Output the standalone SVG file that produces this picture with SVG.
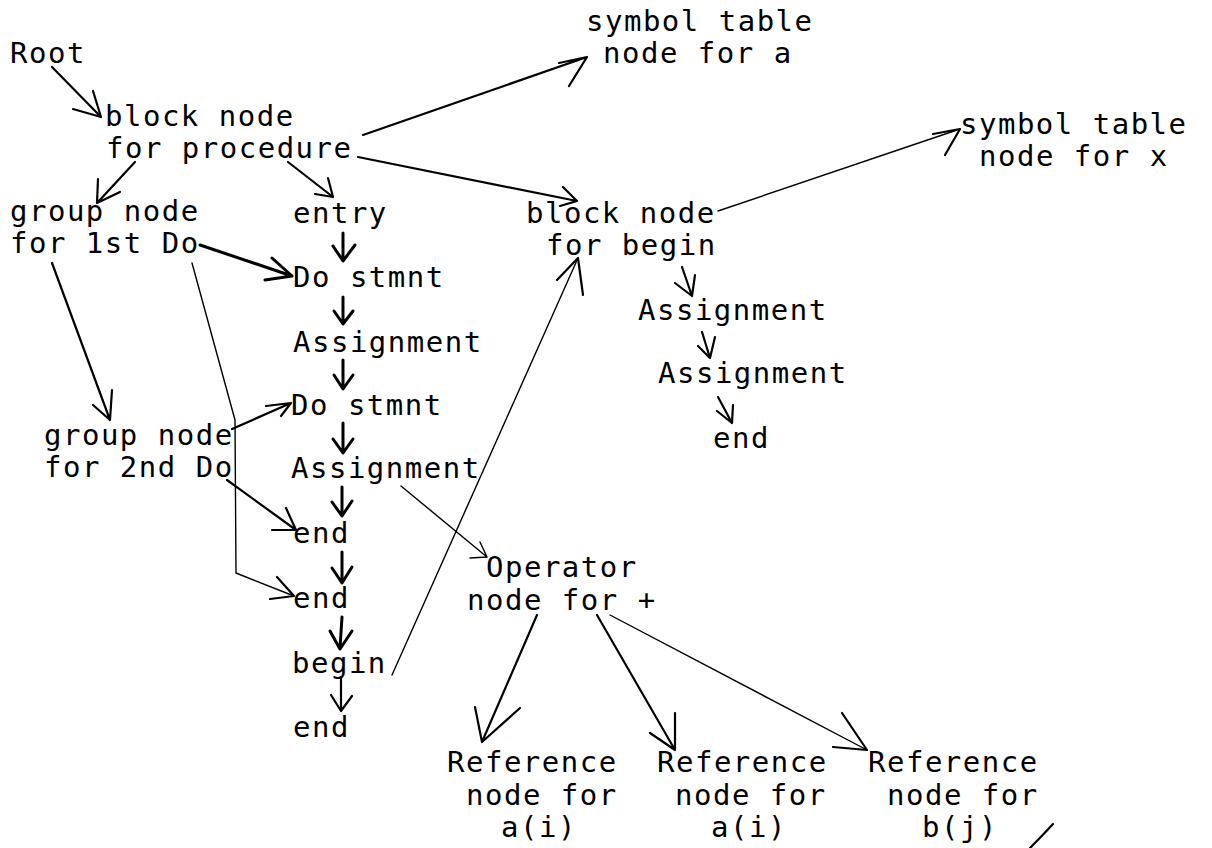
<svg xmlns="http://www.w3.org/2000/svg" width="1212" height="848" viewBox="0 0 1212 848">
<style>
text{font-family:"DejaVu Sans Mono","Liberation Mono",monospace;font-size:29px;letter-spacing:1.5px;fill:#000}
.c{fill:none;stroke:#000;stroke-linecap:round;stroke-linejoin:round}
.b{stroke-width:3}
.m{stroke-width:2.2}
.t{stroke-width:1.4}
</style>
<rect width="1212" height="848" fill="#fff"/>
<g id="connectors">
<!-- Root -> block node for procedure -->
<path class="c m" d="M52,67 L101,117 M73,109 L101,117 L93,91"/>
<!-- procedure -> symbol table a -->
<path class="c m" d="M363,135 L587,57 M559,63 L587,57 L569,86"/>
<!-- procedure -> block node for begin -->
<path class="c m" d="M358,157 L577,201 M563,187 L577,201 L560,206"/>
<!-- procedure -> group node 1st Do -->
<path class="c m" d="M135,162 L97,203 M98,179 L97,203 L120,192"/>
<!-- procedure -> entry -->
<path class="c m" d="M288,162 L333,197 M315,194 L333,197 L328,178"/>
<!-- block node begin -> symbol table x -->
<path class="c t" d="M718,211 L960,129"/>
<path class="c m" d="M933,134 L960,129 L945,155"/>
<!-- left column chain -->
<path class="c b" d="M343,233 L343,260 M333,246 L343,261 L355,245"/>
<path class="c b" d="M343,297 L343,323 M334,311 L343,324 L353,311"/>
<path class="c b" d="M343,360 L343,388 M334,375 L343,389 L353,375"/>
<path class="c b" d="M343,423 L343,452 M333,439 L343,453 L353,439"/>
<path class="c b" d="M342,487 L342,515 M332,502 L342,516 L352,501"/>
<path class="c b" d="M342,552 L342,582 M332,568 L342,583 L352,567"/>
<path class="c b" d="M342,617 L340,648 M330,631 L340,649 L352,631"/>
<path class="c m" d="M341,677 L341,710 M331,695 L341,711 L352,696"/>
<!-- group node 1st Do -> Do stmnt -->
<path class="c b" d="M200,245 L292,276 M265,280 L292,276 L272,258"/>
<!-- group node 1st Do -> group node 2nd Do -->
<path class="c m" d="M52,263 L110,420 M93,405 L110,420 L112,390"/>
<!-- group node 1st Do -> end (2nd) -->
<path class="c t" d="M192,263 L235,420 L236,573 L294,596"/>
<path class="c m" d="M270,599 L294,596 L277,577"/>
<!-- group node 2nd Do -> Do stmnt 2 -->
<path class="c m" d="M232,429 L291,403 M266,406 L291,403 L281,416"/>
<!-- group node 2nd Do -> end 1 -->
<path class="c m" d="M227,480 L296,530 M272,530 L296,530 L286,508"/>
<!-- block node begin chain -->
<path class="c m" d="M682,267 L692,296 M675,283 L692,296 L695,275"/>
<path class="c m" d="M702,332 L710,358 M698,346 L710,358 L715,337"/>
<path class="c m" d="M718,397 L732,423 M717,411 L732,423 L733,405"/>
<!-- begin -> block node for begin -->
<path class="c t" d="M392,675 L578,258"/>
<path class="c m" d="M557,280 L578,258 L583,295"/>
<!-- Assignment -> Operator -->
<path class="c t" d="M401,486 L487,557 M470,558 L487,557 L480,542"/>
<!-- Operator -> References -->
<path class="c m" d="M537,615 L482,742 M475,707 L482,742 L520,708"/>
<path class="c m" d="M597,615 L675,750 M675,713 L675,750 L650,733"/>
<path class="c t" d="M610,615 L867,750"/>
<path class="c m" d="M842,713 L867,750 L833,747"/>
</g>
<g id="root"><text x="10" y="63">Root</text></g>
<g id="block-proc"><text x="105" y="126">block node</text><text x="106" y="158">for procedure</text></g>
<g id="sym-a"><text x="586" y="31">symbol table</text><text x="603" y="63">node for a</text></g>
<g id="sym-x"><text x="960" y="134">symbol table</text><text x="979" y="166">node for x</text></g>
<g id="group-1"><text x="10" y="221">group node</text><text x="10" y="253">for 1st Do</text></g>
<g id="entry"><text x="293" y="223">entry</text></g>
<g id="block-begin"><text x="526" y="223">block node</text><text x="546" y="255">for begin</text></g>
<g id="do-1"><text x="293" y="287">Do stmnt</text></g>
<g id="assign-r1"><text x="638" y="320">Assignment</text></g>
<g id="assign-1"><text x="293" y="352">Assignment</text></g>
<g id="assign-r2"><text x="658" y="383">Assignment</text></g>
<g id="do-2"><text x="291" y="415">Do stmnt</text></g>
<g id="end-r"><text x="713" y="448">end</text></g>
<g id="group-2"><text x="44" y="445">group node</text><text x="44" y="477">for 2nd Do</text></g>
<g id="assign-2"><text x="291" y="478">Assignment</text></g>
<g id="end-1"><text x="293" y="543">end</text></g>
<g id="operator"><text x="486" y="577">Operator</text><text x="467" y="610">node for +</text></g>
<g id="end-2"><text x="293" y="608">end</text></g>
<g id="begin"><text x="292" y="673">begin</text></g>
<g id="end-3"><text x="293" y="737">end</text></g>
<g id="ref-1"><text x="447" y="772">Reference</text><text x="466" y="805">node for</text><text x="501" y="837">a(i)</text></g>
<g id="ref-2"><text x="657" y="772">Reference</text><text x="675" y="805">node for</text><text x="711" y="837">a(i)</text></g>
<g id="ref-3"><text x="868" y="772">Reference</text><text x="887" y="805">node for</text><text x="922" y="837">b(j)</text></g>
<path class="c m" d="M1030,848 Q1042,836 1053,824"/>
</svg>
